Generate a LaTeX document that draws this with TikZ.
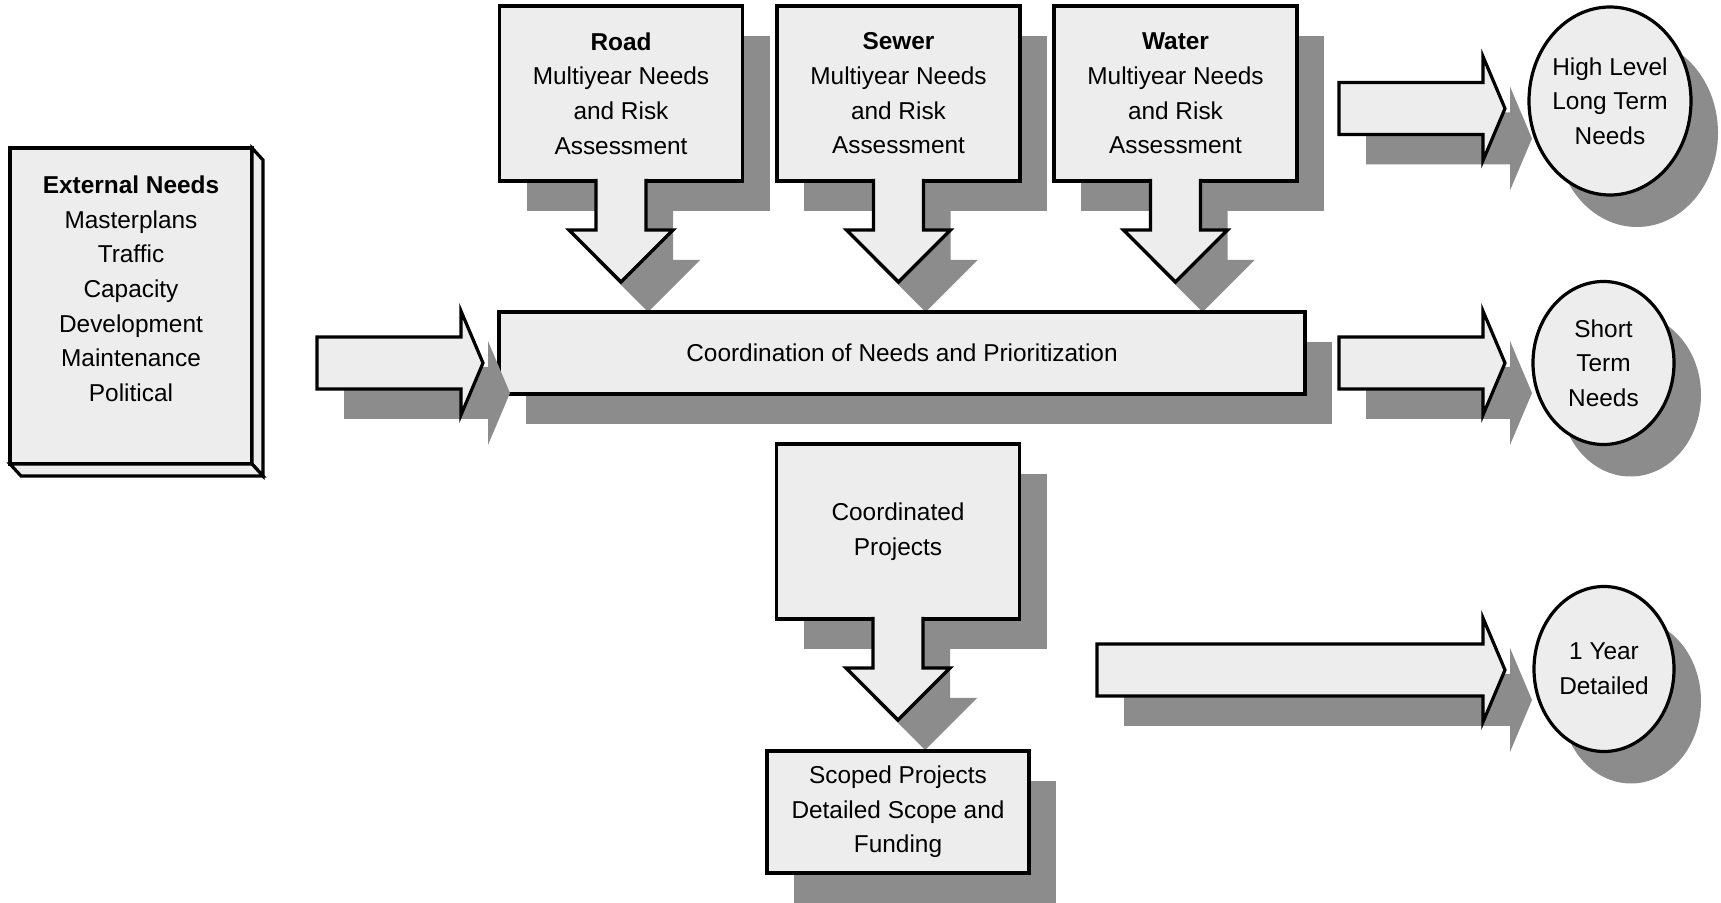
\documentclass[tikz,border=0pt]{standalone}
\usepackage{fontspec}
\setmainfont{Liberation Sans}
\usetikzlibrary{shapes.geometric,shadows,calc}
\definecolor{boxfill}{HTML}{EDEDED}
\definecolor{shadowc}{HTML}{8C8C8C}
\newcommand{\blockarrow}[2]{let \p1=(#1), \p2=(#2) in
  (\x1,\y1+13pt) -- (\x2-11pt,\y1+13pt) -- (\x2-11pt,\y1+26pt) -- (\x2,\y1)
  -- (\x2-11pt,\y1-26pt) -- (\x2-11pt,\y1-13pt) -- (\x1,\y1-13pt) -- cycle}
\newcommand{\stempath}[1]{([xshift=-12.5pt,yshift=1pt]#1.south) -- ++(0,-25.5pt)
  -- ++(-13.5pt,0) -- ([yshift=-50.5pt]#1.south) -- ++(26pt,26pt) -- ++(-13.5pt,0)
  -- ([xshift=12.5pt,yshift=1pt]#1.south)}
\begin{document}
\begin{tikzpicture}[x=0.5pt,y=-0.5pt,
every node/.style={font=\fontsize{12.2}{17.3}\selectfont, align=center},
blk/.style={draw, line width=1.6pt, fill=boxfill},
shad/.style={fill=shadowc, transform canvas={shift={(13.5pt,-15pt)}}},
dshad/.style={drop shadow={shadow xshift=13.5pt, shadow yshift=-15pt, fill=shadowc, opacity=1}},
needbox/.style={blk, dshad, rectangle, outer sep=0pt, minimum width=121.5pt, minimum height=87.5pt},
goal/.style={blk, ellipse, inner sep=0pt, inner xsep=-2pt,
  drop shadow={shadow xshift=13.5pt, shadow yshift=-16pt, fill=shadowc, opacity=1}}]
\useasboundingbox (0,0) rectangle (1721,903);
\node (road) [needbox] at (621,93.5) {\textbf{Road}\\Multiyear Needs\\and Risk\\Assessment};
\node (sewer) [needbox] at (898.5,93.5) {\textbf{Sewer}\\Multiyear Needs\\and Risk\\Assessment};
\node (water) [needbox] at (1175.5,93.5) {\textbf{Water}\\Multiyear Needs\\and Risk\\Assessment};
\foreach \n in {road,sewer,water}{
  \fill[shad] \stempath{\n} -- cycle;
  \filldraw[blk] \stempath{\n};
}
\node (coord) [blk, dshad, outer sep=0pt, minimum width=403pt, minimum height=41pt] at (902,353)
  {Coordination of Needs and Prioritization};
% external needs, drawn as a block
\node (ext) [blk, outer sep=0pt, minimum width=121pt, minimum height=158pt] at (131,306)
  {\textbf{External Needs}\\Masterplans\\Traffic\\Capacity\\Development\\Maintenance\\Political\\\mbox{}};
\filldraw[blk] (ext.north east) -- ++(5.5pt,-6pt) -- ([shift={(5.5pt,-6pt)}]ext.south east) -- (ext.south east) -- cycle;
\filldraw[blk] (ext.south west) -- ++(5.5pt,-6pt) -- ([shift={(5.5pt,-6pt)}]ext.south east) -- (ext.south east) -- cycle;
\coordinate (extout) at (317,363);
\coordinate (coordin) at (483,363);
\fill[shad] \blockarrow{extout}{coordin};
\filldraw[blk] \blockarrow{extout}{coordin};
% outputs
\node (hilong) [goal, minimum width=81pt, minimum height=94pt] at (1610,101) {High Level\\Long Term\\Needs};
\node (short) [goal, minimum width=70.5pt, minimum height=81.5pt] at (1603.5,363) {Short\\Term\\Needs};
\node (oneyear) [goal, minimum width=70pt, minimum height=82.5pt] at (1604,669) {1 Year\\Detailed};
\coordinate (hiout) at (1339,108.5);
\coordinate (hiin) at (1505,108.5);
\coordinate (coordout) at (1339,363);
\coordinate (shortin) at (1505,363);
\coordinate (yearout) at (1097,670);
\coordinate (yearin) at (1505,670);
\fill[shad] \blockarrow{hiout}{hiin};
\filldraw[blk] \blockarrow{hiout}{hiin};
\fill[shad] \blockarrow{coordout}{shortin};
\filldraw[blk] \blockarrow{coordout}{shortin};
\fill[shad] \blockarrow{yearout}{yearin};
\filldraw[blk] \blockarrow{yearout}{yearin};
% projects
\node (cproj) [needbox] at (898,531.5) {Coordinated\\Projects};
\fill[shad] \stempath{cproj} -- cycle;
\filldraw[blk] \stempath{cproj};
\node (scoped) [blk, dshad, outer sep=0pt, minimum width=131pt, minimum height=61pt] at (898,812)
  {Scoped Projects\\Detailed Scope and\\Funding};
\end{tikzpicture}
\end{document}
